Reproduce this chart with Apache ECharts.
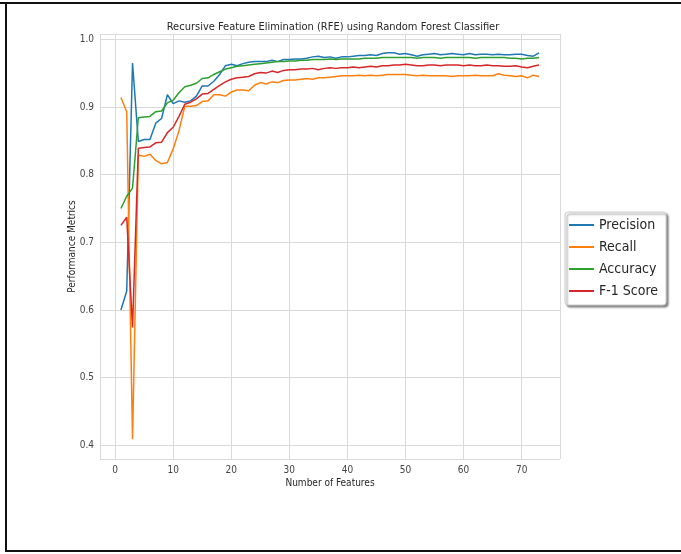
<!DOCTYPE html>
<html>
<head>
<meta charset="utf-8">
<script src="https://cdn.jsdelivr.net/npm/echarts@6/dist/echarts.min.js"></script>
<style>
  html, body { margin: 0; padding: 0; background: #fff; }
  #chart { width: 681px; height: 554px; }
</style>
</head>
<body>
<div id="chart"></div>
<script>
// number of features kept by RFE
const features = [];
for (let i = 1; i <= 73; i++) features.push(i);

const precision = [
  0.600, 0.628, 0.965, 0.849, 0.852, 0.852, 0.876, 0.883, 0.918, 0.905,
  0.909, 0.907, 0.909, 0.916, 0.931, 0.931, 0.938, 0.948, 0.961, 0.963,
  0.961, 0.964, 0.966, 0.967, 0.967, 0.967, 0.969, 0.967, 0.970, 0.970,
  0.971, 0.971, 0.972, 0.974, 0.975, 0.973, 0.974, 0.972, 0.974, 0.974,
  0.975, 0.976, 0.976, 0.977, 0.976, 0.979, 0.980, 0.980, 0.978, 0.979,
  0.977, 0.975, 0.977, 0.978, 0.979, 0.977, 0.978, 0.979, 0.978, 0.977,
  0.979, 0.977, 0.978, 0.978, 0.977, 0.978, 0.977, 0.977, 0.978, 0.978,
  0.976, 0.975, 0.980
];
const recall = [
  0.914, 0.893, 0.409, 0.829, 0.827, 0.830, 0.821, 0.816, 0.818, 0.838,
  0.865, 0.901, 0.901, 0.902, 0.908, 0.909, 0.918, 0.918, 0.916, 0.922,
  0.925, 0.925, 0.924, 0.932, 0.936, 0.934, 0.937, 0.936, 0.939, 0.940,
  0.940, 0.941, 0.942, 0.941, 0.943, 0.943, 0.944, 0.945, 0.946, 0.946,
  0.946, 0.947, 0.946, 0.947, 0.946, 0.947, 0.948, 0.948, 0.948, 0.948,
  0.947, 0.946, 0.947, 0.946, 0.946, 0.946, 0.946, 0.945, 0.946, 0.946,
  0.946, 0.947, 0.946, 0.946, 0.946, 0.949, 0.947, 0.946, 0.945, 0.946,
  0.943, 0.947, 0.945
];
const accuracy = [
  0.750, 0.768, 0.780, 0.884, 0.885, 0.886, 0.893, 0.894, 0.906, 0.910,
  0.921, 0.930, 0.932, 0.935, 0.942, 0.943, 0.948, 0.952, 0.956, 0.958,
  0.960, 0.961, 0.962, 0.963, 0.964, 0.965, 0.966, 0.967, 0.967, 0.968,
  0.968, 0.969, 0.969, 0.970, 0.970, 0.970, 0.971, 0.970, 0.971, 0.971,
  0.971, 0.971, 0.972, 0.972, 0.972, 0.973, 0.973, 0.973, 0.973, 0.973,
  0.973, 0.972, 0.973, 0.973, 0.973, 0.972, 0.973, 0.973, 0.973, 0.973,
  0.973, 0.972, 0.973, 0.973, 0.973, 0.973, 0.973, 0.972, 0.972, 0.971,
  0.972, 0.972, 0.973
];
const f1score = [
  0.725, 0.737, 0.574, 0.839, 0.840, 0.841, 0.847, 0.848, 0.862, 0.870,
  0.886, 0.904, 0.907, 0.912, 0.919, 0.920, 0.926, 0.932, 0.937, 0.941,
  0.943, 0.944, 0.945, 0.949, 0.951, 0.950, 0.953, 0.951, 0.954, 0.955,
  0.955, 0.956, 0.956, 0.957, 0.955, 0.957, 0.958, 0.957, 0.958, 0.958,
  0.959, 0.958, 0.959, 0.960, 0.959, 0.961, 0.961, 0.962, 0.962, 0.963,
  0.962, 0.961, 0.961, 0.962, 0.962, 0.961, 0.962, 0.962, 0.962, 0.961,
  0.962, 0.961, 0.961, 0.962, 0.961, 0.961, 0.960, 0.960, 0.961, 0.959,
  0.958, 0.960, 0.962
];

const seriesNames = ["Precision", "Recall", "Accuracy", "F-1 Score"];
const seriesColors = ["#1f77b4", "#ff7f0e", "#2ca02c", "#d62728"];
const seriesValues = [precision, recall, accuracy, f1score];

const font = "'DejaVu Sans Condensed', 'Liberation Sans Narrow', 'DejaVu Sans', sans-serif";

let myChart = echarts.init(document.getElementById("chart"));

let seriesData = [];
seriesNames.forEach((name, i) => {
  seriesData.push({
    name: name,
    type: "line",
    symbol: "none",
    data: features.map((f, j) => [f, seriesValues[i][j]]),
    lineStyle: { width: 1.5, color: seriesColors[i] },
    itemStyle: { color: seriesColors[i] },
  });
});

let option = {
  animation: false,
  backgroundColor: "#fff",
  title: {
    text: "Recursive Feature Elimination (RFE) using Random Forest Classifier",
    left: 328,
    top: 17,
    textAlign: "center",
    textStyle: { fontFamily: font, fontSize: 11, fontWeight: "normal", color: "#262626" },
  },
  legend: {
    orient: "vertical",
    left: 565,
    top: 212,
    icon: "rect",
    itemWidth: 25,
    itemHeight: 2,
    itemGap: 8,
    padding: [6, 8, 7, 4],
    backgroundColor: "#fff",
    borderColor: "#cccccc",
    borderWidth: 1,
    borderRadius: 3,
    shadowColor: "rgba(0,0,0,0.45)",
    shadowBlur: 2,
    shadowOffsetX: 2,
    shadowOffsetY: 2,
    textStyle: { fontFamily: font, fontSize: 14, color: "#262626" },
    data: seriesNames,
  },
  grid: {
    left: 100,
    right: 121,
    top: 34,
    bottom: 95,
  },
  xAxis: {
    type: "value",
    min: -2.6,
    max: 76.6,
    minInterval: 10,
    maxInterval: 10,
    name: "Number of Features",
    nameLocation: "middle",
    nameGap: 19,
    nameMoveOverlap: false,
    nameTextStyle: { fontFamily: font, fontSize: 10, color: "#262626" },
    axisLine: { show: false },
    axisTick: { show: false },
    axisLabel: {
      showMinLabel: false,
      showMaxLabel: false,
      margin: 6,
      fontFamily: font,
      fontSize: 10,
      color: "#444",
    },
    splitLine: { lineStyle: { color: "#d9d9d9", width: 1 } },
  },
  yAxis: {
    type: "value",
    min: 0.3798,
    max: 1.0078,
    minInterval: 0.1,
    maxInterval: 0.1,
    name: "Performance Metrics",
    nameLocation: "middle",
    nameGap: 23,
    nameMoveOverlap: false,
    nameTextStyle: { fontFamily: font, fontSize: 10, color: "#262626" },
    axisLine: { show: false },
    axisTick: { show: false },
    axisLabel: {
      showMinLabel: false,
      showMaxLabel: false,
      margin: 6,
      fontFamily: font,
      fontSize: 10,
      color: "#444",
      formatter: (v) => v.toFixed(1),
    },
    splitLine: { lineStyle: { color: "#d9d9d9", width: 1 } },
  },
  graphic: [
    // dark frame round the figure (no right edge)
    { type: "line", shape: { x1: 0, y1: 3, x2: 681, y2: 3 }, style: { stroke: "#111", lineWidth: 2 } },
    { type: "line", shape: { x1: 6, y1: 2, x2: 6, y2: 552 }, style: { stroke: "#111", lineWidth: 2 } },
    { type: "line", shape: { x1: 5, y1: 551, x2: 681, y2: 551 }, style: { stroke: "#111", lineWidth: 2 } },
  ],
  series: seriesData,
};

myChart.setOption(option);
</script>
</body>
</html>
